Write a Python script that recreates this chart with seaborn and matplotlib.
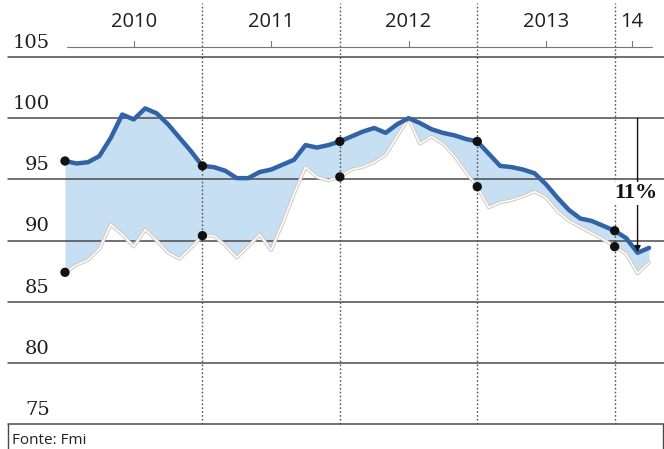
import numpy as np
import pandas as pd
import matplotlib
matplotlib.use("Agg")
import matplotlib.pyplot as plt
import seaborn as sns

# Monthly index values, Jan 2010 - Apr 2014
upper = [96.5, 96.3, 96.4, 96.9, 98.4, 100.3, 99.9, 100.8, 100.4, 99.5, 98.4, 97.3,
         96.1, 96.0, 95.7, 95.1, 95.1, 95.6, 95.8, 96.2, 96.6, 97.8, 97.6, 97.8,
         98.1, 98.5, 98.9, 99.2, 98.8, 99.5, 100.0, 99.6, 99.1, 98.8, 98.6, 98.3,
         98.1, 97.1, 96.1, 96.0, 95.8, 95.5, 94.6, 93.5, 92.5, 91.8, 91.6, 91.2,
         90.8, 90.2, 89.0, 89.4]
lower = [87.4, 88.0, 88.4, 89.3, 91.3, 90.5, 89.5, 90.9, 90.0, 89.0, 88.5, 89.4,
         90.4, 90.4, 89.6, 88.6, 89.5, 90.5, 89.2, 91.4, 93.8, 96.0, 95.2, 94.9,
         95.2, 95.8, 96.0, 96.4, 97.0, 98.5, 100.0, 97.9, 98.5, 97.9, 96.9, 95.6,
         94.4, 92.7, 93.1, 93.3, 93.6, 94.0, 93.5, 92.4, 91.6, 91.1, 90.6, 90.1,
         89.5, 88.9, 87.3, 88.2]
year_labels = ["2010", "2011", "2012", "2013", "14"]
year_label_pos = [2010.5, 2011.5, 2012.5, 2013.5, 2014.125]
year_starts = [2011, 2012, 2013, 2014]
y_ticks = [75, 80, 85, 90, 95, 100, 105]
drop_label = "11%"
source = "Fonte: Fmi"

t = 2010 + np.arange(len(upper)) / 12.0
df = pd.DataFrame({"t": t, "upper": upper, "lower": lower})
marks = df.iloc[::12]

sns.set_theme(style="white")

BLUE = "#3163a6"
FILL = "#c6dff3"
GRID = "#4a4a4a"

fig = plt.figure(figsize=(6.64, 4.49), dpi=100)
ax = fig.add_axes([0, 0, 1, 1])
ax.set_xlim(2009.527, 2014.359)
ax.set_ylim(72.96, 109.66)
ax.axis("off")

x_grid0 = 2009.585
# horizontal grid with value labels sitting on each line
for v in y_ticks:
    ax.plot([x_grid0, 2014.359], [v, v], color=GRID, lw=1.1, zorder=2)
    ax.text(2009.89, v + 0.42, str(v), ha="right", va="bottom",
            fontsize=14, family="DejaVu Serif", color="#1e1e1e")

# year boundaries
for yr in year_starts:
    ax.plot([yr, yr], [75, 109.4], color="#555555", lw=1.0,
            ls=(0, (1.2, 1.6)), zorder=2)

# top time axis
ax.plot([2010.015, 2014.272], [105.82, 105.82], color="#777777", lw=0.8)
for pos, lab in zip(year_label_pos, year_labels):
    ax.plot([pos, pos], [105.82, 106.3], color="#777777", lw=0.8)
    ax.text(pos, 107.85, lab, ha="center", va="center", fontsize=14.5,
            family="Open Sans", color="#1e1e1e")

# band between the two series
ax.fill_between(df["t"], df["lower"], df["upper"], color=FILL, lw=0, zorder=1)
sns.lineplot(data=df, x="t", y="lower", ax=ax, color="#d3cbc2", lw=2.6,
             zorder=3, legend=False)
sns.lineplot(data=df, x="t", y="lower", ax=ax, color="white", lw=1.1,
             zorder=3, legend=False)
sns.lineplot(data=df, x="t", y="upper", ax=ax, color=BLUE, lw=3.2,
             zorder=4, legend=False)
sns.scatterplot(data=marks, x="t", y="upper", ax=ax, color="#111111", s=45,
                edgecolor="none", zorder=5, legend=False)
sns.scatterplot(data=marks, x="t", y="lower", ax=ax, color="#111111", s=45,
                edgecolor="none", zorder=5, legend=False)

# drop annotation
i_min = 50
ax.annotate("", xy=(t[i_min], upper[i_min] + 0.05), xytext=(t[i_min], 100),
            arrowprops=dict(arrowstyle="-|>", color="#111111", lw=1.0,
                            mutation_scale=9, shrinkA=0, shrinkB=0), zorder=6)
ax.text(2014.156, 93.85, drop_label, ha="center", va="center", fontsize=16,
        family="Liberation Serif", fontweight="bold", color="#111111", zorder=7,
        bbox=dict(facecolor="white", edgecolor="none", pad=0.8))

ax.set_xlabel("")
ax.set_ylabel("")

# source box
ax.plot([x_grid0, x_grid0], [72.96, 75], color=GRID, lw=1.0)
ax.plot([2014.35, 2014.35], [72.96, 75], color=GRID, lw=1.0)
fig.text(12 / 664, 1 - 440 / 449, source, ha="left", va="center", fontsize=11,
         family="Open Sans", color="#222222")

fig.savefig("out.png", dpi=100)
